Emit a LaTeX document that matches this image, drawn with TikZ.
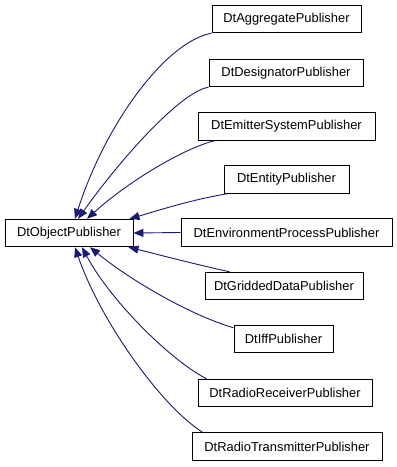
\documentclass[tikz,border=0pt]{standalone}
\usepackage{fontspec}
\setmainfont{Liberation Sans}
\usetikzlibrary{arrows.meta}
\definecolor{edgeblue}{HTML}{191970}
\begin{document}
\begin{tikzpicture}[x=1pt,y=-1pt,
  cls/.style={draw=black,line width=0.9pt,fill=white,rectangle,inner sep=0pt,
    minimum height=27.5pt,font=\fontsize{12.9}{14}\selectfont},
  edge/.style={draw=edgeblue,line width=0.9pt,
    -{Triangle[length=10pt,width=8pt]}}]
\useasboundingbox (0,0) rectangle (397,467);
\node[cls,minimum width=128pt] (obj) at (69,233) {DtObjectPublisher};
\node[cls,minimum width=149pt] (agg) at (286.5,19) {DtAggregatePublisher};
\node[cls,minimum width=154pt] (des) at (286,73) {DtDesignatorPublisher};
\node[cls,minimum width=177pt] (emi) at (286.5,126.5) {DtEmitterSystemPublisher};
\node[cls,minimum width=125pt] (ent) at (286.5,179.5) {DtEntityPublisher};
\node[cls,minimum width=211pt] (env) at (286.5,232.5) {DtEnvironmentProcessPublisher};
\node[cls,minimum width=158pt] (gri) at (284,286) {DtGriddedDataPublisher};
\node[cls,minimum width=99pt] (iff) at (283.5,339) {DtIffPublisher};
\node[cls,minimum width=174pt] (rec) at (285,393) {DtRadioReceiverPublisher};
\node[cls,minimum width=190pt] (tra) at (287,446.5) {DtRadioTransmitterPublisher};

\draw[edge] (agg.south west) .. controls (165,42) and (105,125) .. ([xshift=6pt]obj.north);
\draw[edge] (des.south west) .. controls (180,92) and (120,160) .. ([xshift=9pt]obj.north);
\draw[edge] ([xshift=17pt]emi.south west) .. controls (185,148) and (130,180) .. ([xshift=18pt]obj.north);
\draw[edge] ([xshift=4pt]ent.south west) .. controls (190,200) and (160,210) .. ([xshift=-4pt]obj.north east);
\draw[edge] (env.west) -- (obj.east);
\draw[edge] ([xshift=25pt]gri.north west) .. controls (190,263) and (160,255) .. ([xshift=-5pt]obj.south east);
\draw[edge] ([yshift=-3pt]iff.north west) .. controls (190,315) and (130,280) .. ([xshift=21pt]obj.south);
\draw[edge] ([xshift=9pt]rec.north west) .. controls (170,360) and (110,300) .. ([xshift=13pt]obj.south);
\draw[edge] ([xshift=11pt]tra.north west) .. controls (160,405) and (100,320) .. ([xshift=6pt]obj.south);
\end{tikzpicture}
\end{document}
